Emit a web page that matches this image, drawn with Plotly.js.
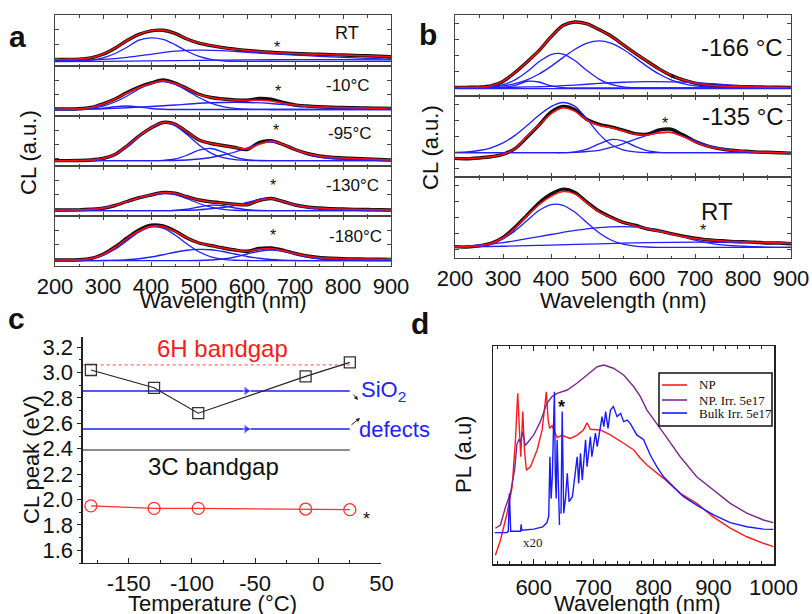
<!DOCTYPE html>
<html><head><meta charset="utf-8">
<script src="https://cdn.plot.ly/plotly-3.0.1.min.js"></script>
<style>html,body{margin:0;padding:0;background:#fff}#chart{width:812px;height:614px}</style>
</head><body><div id="chart"></div>
<script>
// ---------- wavelength grids (nm) ----------
const W25=[200,225,250,275,300,325,350,375,400,425,450,475,500,525,550,575,600,625,650,675,700,725,750,775,800,825,850,875,900];
const W50=[200,250,300,350,400,450,500,550,600,650,700,750,800,850,900];
const W100=[200,300,400,500,600,700,800,900];

// ---------- panel a (CL, relative units per sub-panel, 0..100) ----------
const aRT_fit=[13,13,13.5,16,23,35,50,62,69,70,64,53,45,40,36,33,30.5,28.5,27,25.5,24.5,23.5,23,22,21.5,20.5,20,19,18];
const aRT_c1=[9,9,9.8,11.6,16,24.5,36.7,50.8,55.3,52.4,41.9,29,18.9,13,10.3,9.3,9,9,9,9,9,9,9,9,9,9,9,9,9];
const aRT_c2=[10,11,13,17,23,29,31,30,27,24,21.5,19,17,15,13.5];
const aRT_c3=[8.5,9,10,11,12,12.5,12.5,12];

const a10_data=[14,14,14.5,17,24.5,34,47,58,66,72,66,55,43.5,37,34,32,31.5,35,33.5,27,22,20,18.5,17.5,17,16.5,16,15.5,15.3];
const a10_fit=[14,14,14.5,17,24,34,46,57,65,70.5,65,55,43,37,33.5,32,31,31.5,30,25.5,22,20,18.5,17.5,17,16.5,16,15.5,15.3];
const a10_c1=[13.06,13.3,13.9,15.8,20,28,40,54,65,68.7,63,50.7,37,25.8,18.7,15.2,13.7,13.2,13,13,13,13,13,13,13,13,13,13,13];
const a10_c2=[13,13,13,14,15.5,18.5,20,18,15,13.5,13,13,13,13,13,13,13,13,13,13,13,13,13,13,13,13,13,13,13];
const a10_c3=[13,13.5,14.5,16.5,19,22,25.5,27,27,25,21,18,16,15,14];

const a95_data=[10.7,10.7,11,12,15,23,40,60,76,87,84,68,52,45,41,37,33,47,50.5,43,33,25,20,17.5,16,15,14,13,12];
const a95_fit=[10.7,10.7,11,12,15,23,40,60,76,87,84,68,52,45,41,37,34,43,50,43,33,25,20,17.5,16,15,14,13,12];
const a95_c1=[10.7,10.8,11,12.1,15.3,23,37.5,57.7,77.1,86.7,80.6,62.8,42,25.9,16.6,12.6,11.3,10.7,10.7,10.7,10.7,10.7,10.7,10.7,10.7,10.7,10.7,10.7,10.7];
const a95_c2=[10.7,10.7,10.7,10.7,10.7,10.7,10.7,10.7,10.8,11.3,14,21.5,31.6,35,27.7,17.8,12.5,11,10.7,10.7,10.7,10.7,10.7,10.7,10.7,10.7,10.7,10.7,10.7];
const a95_c3=[10.7,10.7,10.7,10.7,10.7,10.7,10.7,10.7,10.7,10.8,11,12,14,17,22,28,36,44,48.5,43,33,24,18,15,13.5,12.5,12,11.5,11];

const a130_fit=[12,12,12.3,13.5,15.5,21,29,36.5,42,47,45.5,38.5,32,28.5,26,23.5,22.5,31,35,29,22,18,16,14.5,14,13.3,13,12.5,12];
const a130_c1=[10.9,11.2,12,13.7,16.8,21.8,28.6,35.9,42,45,42.6,34.7,25,17.6,13.3,11.5,10.9,10.7,10.7,10.7,10.7,10.7,10.7,10.7,10.7,10.7,10.7,10.7,10.7];
const a130_c2=[10.7,10.7,10.7,10.7,10.7,10.7,10.7,10.7,10.7,10.8,11.4,13.5,18,21.7,20.5,16,12.5,11,10.7,10.7,10.7,10.7,10.7,10.7,10.7,10.7,10.7,10.7,10.7];
const a130_c3=[10.7,10.7,10.7,10.7,10.7,10.7,10.7,10.7,10.7,10.7,11,11.5,12.5,14.5,17,21,27,33,35,29.5,22,17,14,12.5,11.5,11.2,11,10.9,10.8];

const a180_data=[12,12,12.5,15,23.5,38,56,72,81.5,80,70,56,46,41,36,32,29.5,35,36,31.5,25,20,17,15.5,14.5,14,13.8,13.5,13.3];
const a180_fit=[12,12,12.5,15,23,37,55,70,79.5,79,69,56,46,41,36,32,29.5,33.5,35,31,25,20,17,15.5,14.5,14,13.8,13.5,13.3];
const a180_c1=[10.8,11,12,14.8,21.3,33.4,50.5,67.8,78,75.6,62,44,28.4,18.4,13.4,11.5,11,10.7,10.7,10.7,10.7,10.7,10.7,10.7,10.7,10.7,10.7,10.7,10.7];
const a180_c2=[10.7,10.7,10.7,10.7,11,11.5,12.5,14.5,18,22.5,27.5,31.5,33.3,32.5,29,24,19,15.5,13,11.8,11,10.7,10.7,10.7,10.7,10.7,10.7,10.7,10.7];
const a180_c3=[10.7,10.7,10.7,10.7,10.7,10.7,10.7,10.7,10.7,10.7,10.7,10.7,11,12,14,18,24,29.5,32,29.5,24,18,14.5,12.5,11.5,11.2,11,10.9,10.8];

// ---------- panel b ----------
const b166_fit=[10.7,10.7,11,12.5,18,29,42,56,73,87,91.4,89,82,74,63.5,53,43,33.5,25.5,20,16,13.5,12.3,11.8,11.5,11.2,11,10.8,10.7];
const b166_c1=[10,10,10.3,11.2,13.9,19.9,30,42.2,51.2,51.8,43.6,31.4,20.9,14.4,11.4,10.4,10,10,10,10,10,10,10,10,10,10,10,10,10];
const b166_c2=[10,10.2,10.4,11.1,12.5,15.3,20,27.1,36.6,47.4,57.7,65.2,68,65.2,57.7,47.4,36.6,27.1,20,15.3,12.5,11.1,10.4,10.2,10,10,10,10,10];
const b166_c3=[10,10,10,10,10.6,13,18.2,17.3,12.5,10.4,10,10,10,10,10,10,10,10,10,10,10,10,10,10,10,10,10,10,10];
const b166_c4=[10,10.2,10.5,11.2,12,13.5,15.5,17,17.7,17.5,16.5,14.5,12.5,11,10.5];
const b166_c5=[9,9,9,9,9,9,9,9];

const b135_data=[23,22.5,23.5,25,28,35,49,64,80,87,83,71,65,62,58,53.5,53,58,59,52,44,38.5,35,33,32,31,30.5,30,29.5];
const b135_fit=[23,23,23.5,25,28,35,50,64,78,85.5,81,70,64,61,57,53,52,54.5,55,50,43,38,35,33,32,31,30.5,30,29.5];
const b135_c1=[30.4,31,32.7,36.1,42.2,51.4,63.5,76.3,86.9,92,87.2,71.4,53.3,40.2,33.5,31,30,30,30,30,30,30,30,30,30,30,30,30,30];
const b135_c2=[30,30,30,30,30,30,30,30,30,30,31,34.4,40.9,46.2,44.5,37.8,32.5,30.5,30,30,30,30,30,30,30,30,30,30,30];
const b135_c3=[30,30,30,30,30,30,30,30,30,30,30.5,31.5,33,36.5,41,46.5,51.5,54.5,55,50,45,39.5,36,33,31.5,30.8,30.4,30.2,30];

const bRT_data=[14,13.5,15,18,25.5,38,53,68,79,85,81,69,58,50.5,44,40.5,36,33.5,30,27,24.5,22.5,21.5,20.5,20,19.5,18.5,18.5,17.5];
const bRT_fit=[14,14,15,18,25,37,52,66,76,82,79,68,57,50,44,40,36,33,30,26.5,24,22.5,21.3,20.5,20,19.5,19,18.5,18];
const bRT_c1=[13.3,13.7,14.9,17.8,23.7,33.5,46.2,58.6,66,65.1,56.4,43.5,31.2,22.2,17.1,14.6,13.6,13.2,13.2,13.2,13.2,13.2,13.2,13.2,13.2,13.2,13.2,13.2,13.2];
const bRT_c2=[14,16,19,24,29,34,37.5,38.7,37,30,22,16.5,14.5,13.5,13.2];
const bRT_c3=[13.5,14.5,16,17.5,19,19.5,19,18];

// ---------- panel c ----------
const cTemp=[-180,-130,-95,-10,25];
const cPeakMain=[3.02,2.88,2.68,2.97,3.08];
const cPeakStar=[1.95,1.93,1.93,1.925,1.92];
const cRefX=[-186.5,25];
const cArrowX=[-186.5,-57,25];
const gap6H=3.06, sio2Upper=2.855, sio2Lower=2.555, gap3C=2.39;
const cTickVals=[-150,-100,-50,0,50];
const cTickText=['-150','-100','-50','0','50'];

// ---------- panel d (PL, relative units) ----------
const npX=[536,544.5,555.6,564,569.5,573.3,576.7,578.3,581.7,584.5,587.8,594.5,605.6,614,618.4,621,624,626.7,630.5,639,647,661,672,683,689,694.5,711,728,750,767,778,789,816.7,844.5,872,900,928,955.6,983.3,1000];
const npY=[4,11,23.4,35.5,57,78.3,58.4,49.2,69.9,52.3,43,44.6,52.3,61.5,72.2,79,66,62.2,63.5,58,59,57.6,59,61.5,64.8,61.8,61.5,59.2,55.4,52.3,48.5,45.4,39.3,32.4,27.8,21.5,16.5,12.5,9.5,8];
const irrX=[536,544.5,553,561,568,572,575,578,581.7,585.9,589,600,611,622,630.5,639,656,672,689,706,717,733,750,767,778,789,816.7,844.5,872,900,928,955.6,983.3,1000];
const irrY=[16.4,17.9,26.3,32.4,43,55,57,56,60.7,54.3,55.4,59.2,65.3,73.7,76.8,78.3,79.8,82.9,86.7,90.5,91.3,89.8,86.7,81.3,76.8,70.6,60,49.2,40,34,27.8,23.3,20.2,19];
const bulkX20X=[535,555,557.5,559.5,561.5,572,578,579,580,600,615,622,625,627,629,631,633,634.5,636,637.5,639,641,643];
const bulkX20Y=[14.4,14.4,15,32.4,15,14.8,15,18.2,15.5,16,17,19,22,49.2,30,40,64.5,79,41.6,30,57,40,17.9];
const bulkX=[645.5,647.5,650,653,656,659,664.5,670,672.5,675,678,681,686.5,689,694.5,697,703,706,714,717,720,724,728,733,739,745,750,756,761,772,783.4,794.5,805.6,816.7,833.4,850,872,900,928,955.6,983.3,1000];
const bulkY=[23,69.9,23.3,30,41.6,28.6,30.9,44.6,49.2,37,50.8,38.5,57,44.6,58.4,49.2,60,53.8,67.6,63,69.9,62.2,70.6,72.2,67.6,69.1,65.3,66,64.5,59.2,57,50,44.6,40,35.5,30.9,27,22.5,19,17.1,16,15.9];
const dNames=['NP','NP. Irr. 5e17','Bulk Irr. 5e17'];
const dColors=['#ff1a1a','#7a2a8c','#1a1aff'];

// ---------- build ----------
const W=812,H=614;
const px=v=>v/W, py=v=>1-v/H;
const BLUE='#1f1fff', RED='#ff1010', BLK='#111';
function ax(n){return n===1?'':String(n);}
function L(x,y,n,color,width,shape){
  return {x:x,y:y,xaxis:'x'+ax(n),yaxis:'y'+ax(n),type:'scatter',mode:'lines',
    line:{color:color,width:width,shape:shape||'spline',smoothing:0.8},showlegend:false,hoverinfo:'skip'};
}
const spectra=[
  {n:1,data:aRT_fit,fit:aRT_fit,comps:[[W25,aRT_c1],[W50,aRT_c2],[W100,aRT_c3]]},
  {n:2,data:a10_data,fit:a10_fit,comps:[[W25,a10_c1],[W25,a10_c2],[W50,a10_c3]]},
  {n:3,data:a95_data,fit:a95_fit,comps:[[W25,a95_c1],[W25,a95_c2],[W25,a95_c3]]},
  {n:4,data:a130_fit,fit:a130_fit,comps:[[W25,a130_c1],[W25,a130_c2],[W25,a130_c3]]},
  {n:5,data:a180_data,fit:a180_fit,comps:[[W25,a180_c1],[W25,a180_c2],[W25,a180_c3]]},
  {n:6,data:b166_fit,fit:b166_fit,comps:[[W25,b166_c1],[W25,b166_c2],[W25,b166_c3],[W50,b166_c4],[W100,b166_c5]]},
  {n:7,data:b135_data,fit:b135_fit,comps:[[W25,b135_c1],[W25,b135_c2],[W25,b135_c3]]},
  {n:8,data:bRT_data,fit:bRT_fit,comps:[[W25,bRT_c1],[W50,bRT_c2],[W100,bRT_c3]]}
];
const traces=[];
spectra.forEach(s=>{
  traces.push(L(W25,s.data,s.n,BLK,3.4));
  s.comps.forEach(c=>traces.push(L(c[0],c[1],s.n,BLUE,1.3)));
  traces.push(L(W25,s.fit,s.n,RED,1.5));
});
// panel c
traces.push(L(cRefX,[gap6H,gap6H],9,'#ff7070',1.2,'linear')); traces[traces.length-1].line.dash='dot';
[sio2Upper,sio2Lower].forEach(v=>{
  traces.push({x:cArrowX,y:[v,v,v],xaxis:'x9',yaxis:'y9',type:'scatter',mode:'lines+markers',
    line:{color:BLUE,width:1.5},marker:{symbol:'triangle-right',size:[0,9,0],color:BLUE},showlegend:false,hoverinfo:'skip'});
});
traces.push(L(cRefX,[gap3C,gap3C],9,'#666',1.5,'linear'));
traces.push({x:cTemp,y:cPeakMain,xaxis:'x9',yaxis:'y9',type:'scatter',mode:'lines+markers',
  line:{color:'#222',width:1.1},marker:{symbol:'square-open',size:11,color:'#333',line:{width:1.3}},showlegend:false,hoverinfo:'skip'});
traces.push({x:cTemp,y:cPeakStar,xaxis:'x9',yaxis:'y9',type:'scatter',mode:'lines+markers',
  line:{color:'#ff3030',width:1.1},marker:{symbol:'circle-open',size:12,color:'#ff3030',line:{width:1.3}},showlegend:false,hoverinfo:'skip'});
// panel d
[[npX,npY],[irrX,irrY],[bulkX20X.concat([null],bulkX),bulkX20Y.concat([null],bulkY)]].forEach((p,i)=>{
  traces.push({x:p[0],y:p[1],xaxis:'x10',yaxis:'y10',type:'scatter',mode:'lines',name:dNames[i],
    line:{color:dColors[i],width:1.4},connectgaps:false,showlegend:false,hoverinfo:'skip'});
});

const FR='#444';
function abX(n,d,yid,labels){return {domain:d,anchor:yid,range:[200,900],showline:true,linecolor:FR,linewidth:1.3,mirror:'ticks',
  ticks:'inside',ticklen:4,tickcolor:FR,dtick:100,tick0:200,minor:{dtick:50,ticks:'inside',ticklen:2.5,tickcolor:FR},
  showticklabels:labels,tickfont:{size:22},showgrid:false,zeroline:false,fixedrange:true};}
function abY(d,xid,t0,dt){return {domain:d,anchor:xid,range:[0,100],showline:true,linecolor:FR,linewidth:1.3,mirror:'ticks',
  ticks:'inside',ticklen:4,tickcolor:FR,tick0:t0,dtick:dt,showticklabels:false,showgrid:false,zeroline:false,fixedrange:true};}
const layout={width:W,height:H,margin:{l:0,r:0,t:0,b:0},paper_bgcolor:'#fff',plot_bgcolor:'rgba(0,0,0,0)',
  font:{family:'Liberation Sans, Arial, sans-serif',size:22,color:'#111'},showlegend:false};
const aX=[px(55),px(391)], bX=[px(455),px(791)];
const aRows=[[15,66],[66,116],[116,166],[166,216],[216,266]];
const bRows=[[15,96],[96,177],[177,258]];
aRows.forEach((r,i)=>{const n=i+1;
  layout['xaxis'+ax(n)]=abX(n,aX,'y'+ax(n),i===4);
  layout['yaxis'+ax(n)]=abY([py(r[1]),py(r[0])],'x'+ax(n),15,28);});
bRows.forEach((r,i)=>{const n=i+6;
  layout['xaxis'+n]=abX(n,bX,'y'+n,i===2);
  layout['yaxis'+n]=abY([py(r[1]),py(r[0])],'x'+n,10,20);});
layout.xaxis9={domain:[px(82.7),px(381.4)],anchor:'y9',range:[-186.5,50],showline:true,linecolor:'#222',linewidth:1.3,
  ticks:'inside',ticklen:5,tickcolor:'#222',tickvals:cTickVals,ticktext:cTickText,
  minor:{dtick:25,tick0:0,ticks:'inside',ticklen:3,tickcolor:'#222'},tickfont:{size:22},showgrid:false,zeroline:false};
layout.yaxis9={domain:[py(563),py(337)],anchor:'x9',range:[1.5,3.28],showline:true,linecolor:'#222',linewidth:1.3,
  ticks:'outside',ticklen:4,tickcolor:'#222',dtick:0.2,tick0:1.6,tickformat:'.1f',
  minor:{dtick:0.1,ticks:'outside',ticklen:2,tickcolor:'#222'},tickfont:{size:22},showgrid:false,zeroline:false};
layout.xaxis10={domain:[px(493),px(774)],anchor:'y10',range:[532,1001],showline:true,linecolor:'#222',linewidth:1.5,mirror:'ticks',
  ticks:'inside',ticklen:5,tickcolor:'#222',dtick:100,tick0:600,minor:{dtick:20,ticks:'inside',ticklen:3,tickcolor:'#222'},
  tickfont:{size:22},ticklabelstandoff:3,showgrid:false,zeroline:false};
layout.yaxis10={domain:[py(564),py(346)],anchor:'x10',range:[0,100],showline:true,linecolor:'#222',linewidth:1.5,mirror:true,
  ticks:'',showticklabels:false,showgrid:false,zeroline:false};

// legend of panel d (drawn box, samples and names)
const legRows=[385,400,413];
const shapes=[{type:'rect',xref:'paper',yref:'paper',x0:px(659),x1:px(772),y0:py(426),y1:py(373),
  line:{color:'#111',width:1.5},fillcolor:'#fff',layer:'above'}];
legRows.forEach((r,i)=>shapes.push({type:'line',xref:'paper',yref:'paper',x0:px(662),x1:px(687),y0:py(r),y1:py(r),
  line:{color:dColors[i],width:1.6},layer:'above'}));
layout.shapes=shapes;

function T(text,x,y,size,color,extra){return Object.assign({text:text,x:px(x),y:py(y),xref:'paper',yref:'paper',showarrow:false,
  xanchor:'center',yanchor:'middle',font:{size:size,color:color||'#111'}},extra||{});}
const SERIF='Liberation Serif, Times New Roman, serif';
const ann=[
  T('<b>a</b>',17,36,30), T('<b>b</b>',428,34,30), T('<b>c</b>',16,318,30), T('<b>d</b>',420,323,30),
  T('CL (a.u.)',28,153,22,'#111',{textangle:-90}), T('CL (a.u.)',430,147,22,'#111',{textangle:-90}),
  T('Wavelength (nm)',223,300,22), T('Wavelength (nm)',623,300,22),
  T('CL peak (eV)',31,460,22,'#111',{textangle:-90}), T('Temperature (°C)',212,603,22),
  T('PL (a.u)',463,455,22,'#111',{textangle:-90}), T('Wavelength (nm)',637,603,22),
  T('RT',347,33,18), T('-10°C',348,85,17), T('-95°C',350,133,17), T('-130°C',352,185,17), T('-180°C',355,237,17),
  T('*',277,47,16), T('*',278,91,16), T('*',276,130,16), T('*',273,185,16), T('*',273,236,16),
  T('-166 °C',742,47,24), T('-135 °C',743,117,24), T('RT',717,212,24),
  T('*',672,78,13), T('*',665,124,16), T('*',703,231,16),
  T('6H bandgap',222,348,24,'#ff1a1a'), T('3C bandgap',213,466,24,'#111'),
  T('SiO<sub>2</sub>',359,391,22,BLUE,{xanchor:'left'}), T('defects',357,429,22,BLUE,{xanchor:'left'}),
  T('*',366,519,18),
  T('x20',533,542,13,'#222',{font:{family:SERIF,size:13,color:'#222'}}),
  T('<b>*</b>',561,407,18),
  {x:px(358),y:py(400),xref:'paper',yref:'paper',text:'',showarrow:true,ax:-6,ay:-7,arrowhead:2,arrowsize:0.8,arrowwidth:1,arrowcolor:'#222'},
  {x:px(360),y:py(418),xref:'paper',yref:'paper',text:'',showarrow:true,ax:-10,ay:8,arrowhead:2,arrowsize:0.8,arrowwidth:1,arrowcolor:'#222'}
];
legRows.forEach((r,i)=>ann.push(T(dNames[i],697,r,13,'#111',{xanchor:'left',font:{family:SERIF,size:13,color:'#111'}})));
layout.annotations=ann;
Plotly.newPlot('chart',traces,layout,{staticPlot:true,displayModeBar:false});
</script></body></html>
